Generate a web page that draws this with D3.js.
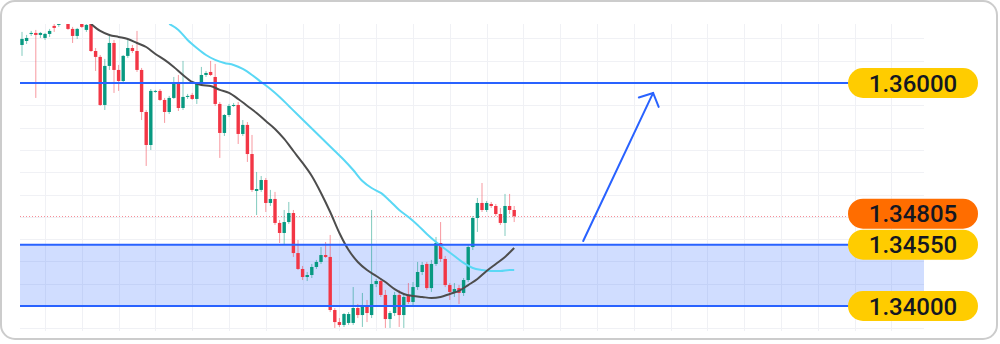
<!DOCTYPE html>
<html>
<head>
<meta charset="utf-8">
<script src="https://cdn.jsdelivr.net/npm/d3@7"></script>
<style>
  html, body { margin: 0; padding: 0; background: #fff; }
  svg { display: block; }
</style>
</head>
<body>
<div id="chart"></div>
<script>
// candles (oldest first)
const open = [1.36341,1.36377,1.36440,1.36449,1.36431,1.36404,1.36440,1.36512,1.36521,1.36565,
  1.36592,1.36485,1.36422,1.36530,1.36476,1.36547,1.36287,1.36234,1.35803,1.36153,
  1.36359,1.36117,1.36018,1.36243,1.36314,1.36287,1.36117,1.35740,1.35444,1.35920,
  1.35929,1.35848,1.35740,1.35866,1.36009,1.35776,1.35875,1.35893,1.35857,1.35991,
  1.36072,1.36099,1.36054,1.35812,1.35552,1.35713,1.35794,1.35803,1.35543,1.35624,
  1.35363,1.35032,1.35041,1.35130,1.34924,1.34960,1.34745,1.34655,1.34753,1.34834,
  1.34475,1.34332,1.34260,1.34278,1.34350,1.34395,1.34457,1.34440,1.33964,1.33856,
  1.33830,1.33848,1.33848,1.33982,1.33919,1.34000,1.33919,1.34197,1.34224,1.34099,
  1.33883,1.33937,1.34099,1.33919,1.34090,1.34036,1.34170,1.34305,1.34377,1.34161,
  1.34377,1.34565,1.34422,1.34188,1.34126,1.34161,1.34117,1.34233,1.34529,1.34789,
  1.34924,1.34861,1.34915,1.34897,1.34825,1.34745,1.34897,1.34861];
const high = [1.36458,1.36431,1.36467,1.36476,1.36458,1.36449,1.36485,1.36547,1.36556,1.36619,
  1.36637,1.36503,1.36494,1.36565,1.36547,1.36583,1.36314,1.36251,1.36216,1.36440,
  1.36386,1.36162,1.36251,1.36395,1.36341,1.36467,1.36135,1.35758,1.35946,1.35938,
  1.35946,1.35866,1.35884,1.36054,1.36072,1.36198,1.35902,1.35911,1.36000,1.36144,
  1.36108,1.36198,1.36171,1.35830,1.35722,1.35812,1.35821,1.35830,1.35668,1.35650,
  1.35534,1.35202,1.35166,1.35148,1.35041,1.35023,1.34771,1.34861,1.34933,1.34861,
  1.34592,1.34359,1.34305,1.34377,1.34413,1.34529,1.34574,1.34637,1.33982,1.33892,
  1.33937,1.33946,1.34170,1.34018,1.34117,1.34054,1.34861,1.34242,1.34251,1.34144,
  1.33955,1.34126,1.34144,1.34099,1.34206,1.34215,1.34395,1.34395,1.34395,1.34413,
  1.34619,1.34753,1.34449,1.34206,1.34206,1.34188,1.34251,1.34547,1.34807,1.34969,
  1.35103,1.34942,1.34933,1.34915,1.34879,1.35005,1.35005,1.34897];
const low = [1.36243,1.36350,1.36422,1.35866,1.36404,1.36386,1.36413,1.36458,1.36503,1.36539,
  1.36476,1.36359,1.36395,1.36494,1.36458,1.36278,1.36108,1.35794,1.35758,1.36117,
  1.35911,1.35929,1.35991,1.36225,1.36269,1.36099,1.35668,1.35256,1.35399,1.35911,
  1.35839,1.35642,1.35722,1.35857,1.35749,1.35758,1.35857,1.35848,1.35812,1.35973,
  1.36054,1.36063,1.35794,1.35328,1.35525,1.35695,1.35785,1.35453,1.35525,1.35292,
  1.35023,1.34816,1.35023,1.34843,1.34897,1.34727,1.34565,1.34547,1.34736,1.34440,
  1.34323,1.34233,1.34224,1.34251,1.34332,1.34377,1.34431,1.33946,1.33803,1.33812,
  1.33812,1.33830,1.33830,1.33892,1.33812,1.33856,1.33892,1.34170,1.34081,1.33803,
  1.33803,1.33910,1.33812,1.33803,1.34018,1.34009,1.34144,1.34278,1.34144,1.34126,
  1.34359,1.34395,1.34170,1.34054,1.34081,1.34018,1.34090,1.34215,1.34502,1.34664,
  1.34843,1.34843,1.34879,1.34807,1.34727,1.34628,1.34825,1.34753];
const close = [1.36395,1.36404,1.36449,1.36431,1.36449,1.36440,1.36467,1.36494,1.36539,1.36592,
  1.36485,1.36422,1.36485,1.36503,1.36521,1.36287,1.36234,1.35803,1.36153,1.36359,
  1.36117,1.36018,1.36243,1.36314,1.36287,1.36117,1.35740,1.35444,1.35929,1.35929,
  1.35848,1.35740,1.35866,1.36009,1.35776,1.35875,1.35884,1.35857,1.35991,1.36072,
  1.36090,1.36072,1.35812,1.35552,1.35713,1.35794,1.35803,1.35543,1.35624,1.35363,
  1.35041,1.35049,1.35130,1.34924,1.34960,1.34745,1.34655,1.34753,1.34834,1.34475,
  1.34332,1.34260,1.34278,1.34350,1.34395,1.34457,1.34440,1.33964,1.33856,1.33830,
  1.33928,1.33928,1.33982,1.33919,1.34000,1.33937,1.34197,1.34224,1.34099,1.33883,
  1.33937,1.34099,1.33919,1.34081,1.34036,1.34170,1.34305,1.34368,1.34161,1.34377,
  1.34565,1.34422,1.34188,1.34126,1.34152,1.34117,1.34233,1.34529,1.34789,1.34924,
  1.34861,1.34924,1.34897,1.34825,1.34745,1.34897,1.34861,1.34805];

// moving averages read at a few candle positions
const maFastIdx = [15,17,19,21,23,25,27,29,31,33,35,37,39,41,43,45,47,49,51,53,55,57,59,61,63,65,67,69,71,73,75,77,79,81,83,85,87,89,91,93,95,97,99,101,103,105,107];
const maFastVal = [1.36530,1.36467,1.36431,1.36413,1.36395,1.36359,1.36323,1.36260,1.36207,1.36144,
  1.36072,1.36009,1.35982,1.35973,1.35938,1.35911,1.35857,1.35794,1.35731,1.35659,
  1.35588,1.35498,1.35390,1.35283,1.35166,1.35014,1.34843,1.34655,1.34502,1.34395,
  1.34323,1.34269,1.34215,1.34152,1.34108,1.34090,1.34081,1.34072,1.34081,1.34108,
  1.34135,1.34188,1.34242,1.34314,1.34377,1.34440,1.34520];
const maSlowIdx = [32,34,36,38,40,42,44,46,48,50,52,54,56,58,60,62,64,66,68,70,72,74,76,78,80,82,84,86,88,90,92,94,96,98,100,102,104,106,107];
const maSlowVal = [1.36530,1.36476,1.36386,1.36314,1.36251,1.36207,1.36180,1.36162,1.36126,1.36072,
  1.36009,1.35946,1.35875,1.35794,1.35713,1.35633,1.35552,1.35471,1.35390,1.35310,
  1.35220,1.35121,1.35058,1.35014,1.34942,1.34861,1.34798,1.34727,1.34646,1.34574,
  1.34511,1.34449,1.34386,1.34341,1.34323,1.34314,1.34314,1.34323,1.34323];

// levels and projection arrow
const levels = [1.36000, 1.34550, 1.34000];
const zoneTop = 1.34550, zoneBottom = 1.34000;
const lastPrice = 1.34805;
const arrowIdx = [122, 137.2];
const arrowPrice = [1.34583, 1.35911];
const gridPrices = d3.range(1.338, 1.3650, 0.002);

const W = 1000, H = 344;
const plot = { left: 20, right: 924, top: 24, bottom: 331 };
const up = '#089981', down = '#F23645';

const svg = d3.select('#chart').append('svg').attr('width', W).attr('height', H);

svg.append('rect')
  .attr('x', 1).attr('y', 1).attr('width', 996).attr('height', 338)
  .attr('rx', 14).attr('fill', '#fff')
  .attr('stroke', '#cccccc').attr('stroke-width', 2);

const x = d3.scaleLinear().domain([0, 107]).range([22, 514.2]);
const y = d3.scaleLinear().domain([1.34, 1.36]).range([306, 83]);

svg.append('clipPath').attr('id', 'plotclip')
  .append('rect').attr('x', plot.left).attr('y', plot.top)
  .attr('width', plot.right - plot.left).attr('height', plot.bottom - plot.top);

const g = svg.append('g').attr('clip-path', 'url(#plotclip)');

// grid
g.selectAll('.hgrid').data(gridPrices).enter().append('line')
  .attr('x1', plot.left).attr('x2', plot.right)
  .attr('y1', d => Math.round(y(d)) + 0.5).attr('y2', d => Math.round(y(d)) + 0.5)
  .attr('stroke', '#f0f1f5').attr('stroke-width', 1);
const vgrid = d3.range(0, 24).map(i => 45 + i * 36.8);
g.selectAll('.vgrid').data(vgrid).enter().append('line')
  .attr('x1', d => Math.round(d) + 0.5).attr('x2', d => Math.round(d) + 0.5)
  .attr('y1', plot.top).attr('y2', plot.bottom)
  .attr('stroke', '#f0f1f5').attr('stroke-width', 1);

// support zone
g.append('rect')
  .attr('x', plot.left).attr('width', plot.right - plot.left)
  .attr('y', y(zoneTop)).attr('height', y(zoneBottom) - y(zoneTop))
  .attr('fill', 'rgba(41,98,255,0.22)');

// last price dotted line
g.append('line')
  .attr('x1', plot.left).attr('x2', 848)
  .attr('y1', Math.round(y(lastPrice)) + 0.5).attr('y2', Math.round(y(lastPrice)) + 0.5)
  .attr('stroke', '#f7727c').attr('stroke-width', 1).attr('stroke-dasharray', '1,2')
  .attr('opacity', 0.8);

// candles
const idx = d3.range(open.length);
const bw = 3.4;
g.selectAll('.wick').data(idx).enter().append('line')
  .attr('x1', i => x(i)).attr('x2', i => x(i))
  .attr('y1', i => y(high[i])).attr('y2', i => y(low[i]))
  .attr('stroke', i => close[i] >= open[i] ? up : down)
  .attr('stroke-width', 1).attr('opacity', 0.5);
g.selectAll('.body').data(idx).enter().append('rect')
  .attr('x', i => x(i) - bw / 2)
  .attr('width', bw)
  .attr('y', i => y(Math.max(open[i], close[i])))
  .attr('height', i => Math.max(1, Math.abs(y(open[i]) - y(close[i]))))
  .attr('fill', i => close[i] >= open[i] ? up : down);

// moving averages
const line = d3.line().curve(d3.curveMonotoneX);
g.append('path')
  .attr('d', line(maSlowIdx.map((d, k) => [x(d), y(maSlowVal[k])])))
  .attr('fill', 'none').attr('stroke', '#5ad8f5').attr('stroke-width', 2);
g.append('path')
  .attr('d', line(maFastIdx.map((d, k) => [x(d), y(maFastVal[k])])))
  .attr('fill', 'none').attr('stroke', '#4d4d4d').attr('stroke-width', 2);

// level lines
g.selectAll('.level').data(levels).enter().append('line')
  .attr('x1', plot.left).attr('x2', 850)
  .attr('y1', d => y(d)).attr('y2', d => y(d))
  .attr('stroke', '#2962FF').attr('stroke-width', 2);

// arrow
const ax0 = x(arrowIdx[0]), ay0 = y(arrowPrice[0]);
const ax1 = x(arrowIdx[1]), ay1 = y(arrowPrice[1]);
const ang = Math.atan2(ay0 - ay1, ax0 - ax1);
const headLen = 15, spread = 0.82;
const arrow = svg.append('g').attr('stroke', '#2962FF').attr('stroke-width', 2)
  .attr('fill', 'none').attr('stroke-linecap', 'round');
arrow.append('line').attr('x1', ax0).attr('y1', ay0).attr('x2', ax1).attr('y2', ay1);
arrow.append('path').attr('d',
  `M${ax1 + headLen * Math.cos(ang - spread)},${ay1 + headLen * Math.sin(ang - spread)}` +
  `L${ax1},${ay1}` +
  `L${ax1 + headLen * Math.cos(ang + spread)},${ay1 + headLen * Math.sin(ang + spread)}`);

// price labels
const labels = levels.map(p => ({ p, color: '#FFCC00' }))
  .concat([{ p: lastPrice, color: '#FF6D00' }])
  .sort((a, b) => b.p - a.p);
const lh = 30;
labels.forEach(l => { l.cy = y(l.p); });
for (let k = labels.length - 2; k >= 0; k--) {
  const below = labels[k + 1];
  if (labels[k].cy > below.cy - lh - 1) labels[k].cy = below.cy - lh - 1;
}
const lg = svg.selectAll('.lbl').data(labels).enter().append('g');
lg.append('rect')
  .attr('x', 848).attr('width', 130)
  .attr('y', d => d.cy - lh / 2).attr('height', lh)
  .attr('rx', 15).attr('fill', d => d.color);
lg.append('text')
  .attr('x', 913).attr('y', d => d.cy)
  .attr('dy', '0.36em')
  .attr('text-anchor', 'middle')
  .attr('font-family', 'Roboto, sans-serif')
  .attr('font-weight', 500)
  .attr('font-size', 24)
  .attr('fill', '#131722')
  .text(d => d.p.toFixed(5));
</script>
</body>
</html>
